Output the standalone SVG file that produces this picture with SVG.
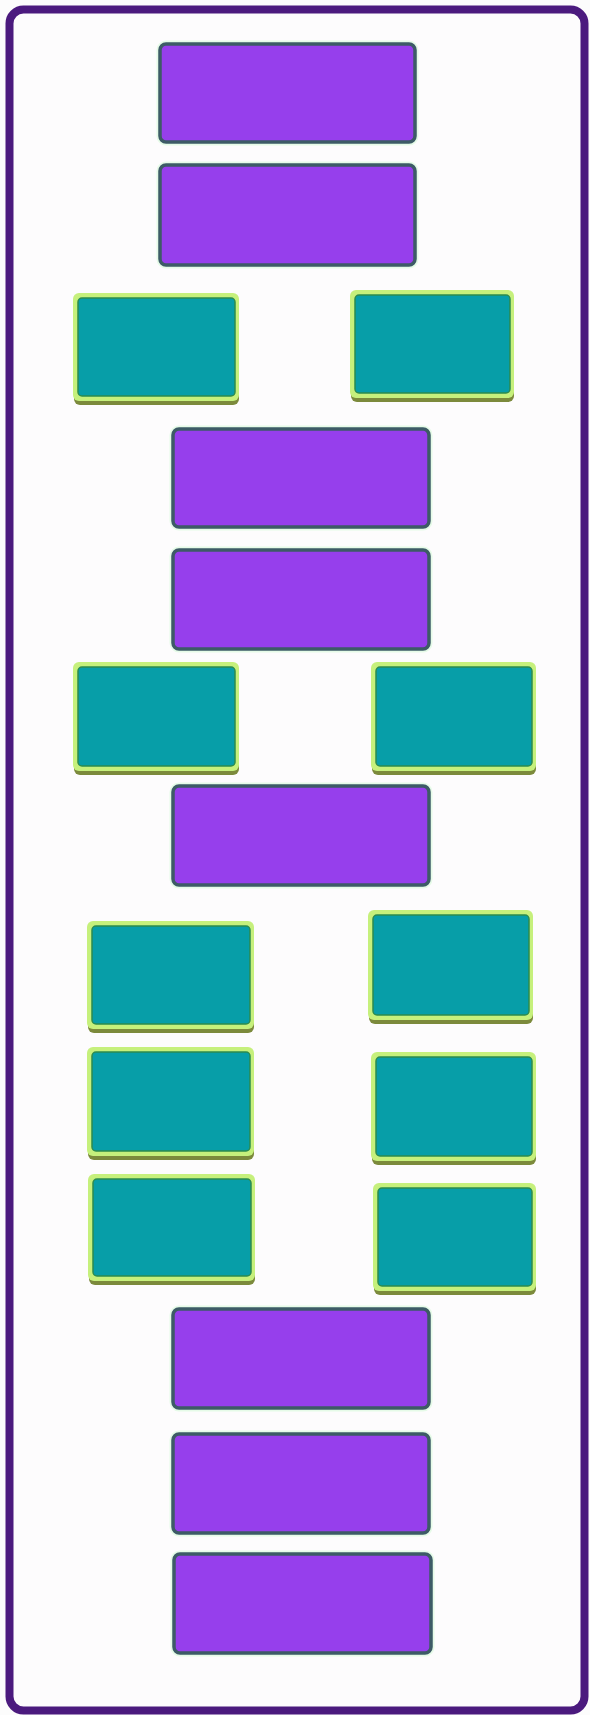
<svg xmlns="http://www.w3.org/2000/svg" width="590" height="1715" viewBox="0 0 590 1715">
<style>
.bg{fill:#fcfcfc}
.frame{fill:#fdfcfd;stroke:#4b1a7e;stroke-width:8}
.p{fill:#963fec;stroke:#3d5b66;stroke-width:3.5}
.pglow{fill:none;stroke:#e6fbe8;stroke-width:3}
.tshadow{fill:#7c8a3c}
.tglow{fill:#c6f07c}
.t{fill:#079ea8;stroke:#2d8b4e;stroke-width:1.5}
</style>
<rect class="bg" x="0" y="0" width="590" height="1715"/>
<rect class="frame" x="9.5" y="9.5" width="575" height="1701" rx="14"/>
<g id="connectors"></g>
<g id="p1"><rect class="pglow" x="158" y="42" width="259" height="102" rx="8"/><rect class="p" x="160" y="44" width="255" height="98" rx="6"/></g>
<g id="p2"><rect class="pglow" x="158" y="163" width="259" height="104" rx="8"/><rect class="p" x="160" y="165" width="255" height="100" rx="6"/></g>
<g id="t1"><rect class="tshadow" x="74" y="297" width="165" height="108" rx="6"/><rect class="tglow" x="73" y="293" width="166" height="108" rx="6"/><rect class="t" x="78" y="298" width="157" height="98" rx="4"/></g>
<g id="t2"><rect class="tshadow" x="351" y="294" width="163" height="108" rx="6"/><rect class="tglow" x="350" y="290" width="164" height="108" rx="6"/><rect class="t" x="355" y="295" width="155" height="98" rx="4"/></g>
<g id="p3"><rect class="pglow" x="171" y="427" width="260" height="102" rx="8"/><rect class="p" x="173" y="429" width="256" height="98" rx="6"/></g>
<g id="p4"><rect class="pglow" x="171" y="548" width="260" height="103" rx="8"/><rect class="p" x="173" y="550" width="256" height="99" rx="6"/></g>
<g id="t3"><rect class="tshadow" x="74" y="666" width="165" height="109" rx="6"/><rect class="tglow" x="73" y="662" width="166" height="109" rx="6"/><rect class="t" x="78" y="667" width="157" height="99" rx="4"/></g>
<g id="t4"><rect class="tshadow" x="372" y="666" width="164" height="109" rx="6"/><rect class="tglow" x="371" y="662" width="165" height="109" rx="6"/><rect class="t" x="376" y="667" width="156" height="99" rx="4"/></g>
<g id="p5"><rect class="pglow" x="171" y="784" width="260" height="103" rx="8"/><rect class="p" x="173" y="786" width="256" height="99" rx="6"/></g>
<g id="tl1"><rect class="tshadow" x="88" y="925" width="166" height="108" rx="6"/><rect class="tglow" x="87" y="921" width="167" height="108" rx="6"/><rect class="t" x="92" y="926" width="158" height="98" rx="4"/></g>
<g id="tr1"><rect class="tshadow" x="369" y="914" width="164" height="110" rx="6"/><rect class="tglow" x="368" y="910" width="165" height="110" rx="6"/><rect class="t" x="373" y="915" width="156" height="100" rx="4"/></g>
<g id="tl2"><rect class="tshadow" x="88" y="1051" width="166" height="109" rx="6"/><rect class="tglow" x="87" y="1047" width="167" height="109" rx="6"/><rect class="t" x="92" y="1052" width="158" height="99" rx="4"/></g>
<g id="tr2"><rect class="tshadow" x="372" y="1056" width="164" height="109" rx="6"/><rect class="tglow" x="371" y="1052" width="165" height="109" rx="6"/><rect class="t" x="376" y="1057" width="156" height="99" rx="4"/></g>
<g id="tl3"><rect class="tshadow" x="89" y="1178" width="166" height="107" rx="6"/><rect class="tglow" x="88" y="1174" width="167" height="107" rx="6"/><rect class="t" x="93" y="1179" width="158" height="97" rx="4"/></g>
<g id="tr3"><rect class="tshadow" x="374" y="1187" width="162" height="108" rx="6"/><rect class="tglow" x="373" y="1183" width="163" height="108" rx="6"/><rect class="t" x="378" y="1188" width="154" height="98" rx="4"/></g>
<g id="p6"><rect class="pglow" x="171" y="1307" width="260" height="103" rx="8"/><rect class="p" x="173" y="1309" width="256" height="99" rx="6"/></g>
<g id="p7"><rect class="pglow" x="171" y="1432" width="260" height="103" rx="8"/><rect class="p" x="173" y="1434" width="256" height="99" rx="6"/></g>
<g id="p8"><rect class="pglow" x="172" y="1552" width="261" height="103" rx="8"/><rect class="p" x="174" y="1554" width="257" height="99" rx="6"/></g>
</svg>
